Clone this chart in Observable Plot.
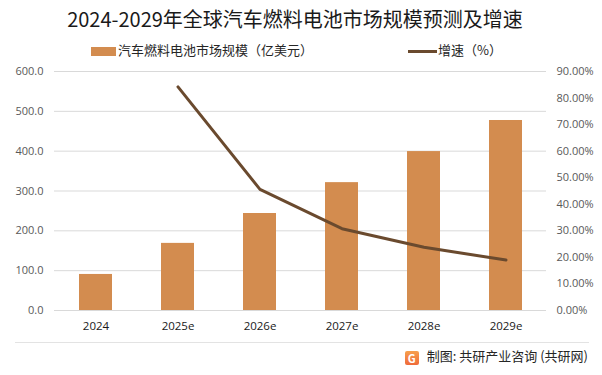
<!DOCTYPE html>
<html>
<head>
<meta charset="utf-8">
<script src="https://cdn.jsdelivr.net/npm/d3@7"></script>
<script src="https://cdn.jsdelivr.net/npm/@observablehq/plot@0.6"></script>
<style>
  html, body { margin: 0; padding: 0; background: #fff; }
  #wrap { position: relative; width: 602px; height: 375px; overflow: hidden; font-family: "Noto Sans CJK SC", "Noto Sans", sans-serif; }
  #title { position: absolute; left: 0; width: 590px; top: 5px; text-align: center; font-size: 20px; color: #1a1a1a; line-height: 28px; }
  .leg { position: absolute; top: 41px; font-size: 13px; color: #262626; line-height: 18px; white-space: nowrap; }
  .sw { display: inline-block; vertical-align: middle; }
  #chart { position: absolute; left: 0; top: 0; }
  #sep { position: absolute; left: 15px; width: 574px; top: 342px; height: 1px; background: #e3e3e3; }
  #cap { position: absolute; right: 14px; top: 347px; font-size: 13px; color: #262626; line-height: 18px; white-space: nowrap; }
  #logo { display: inline-block; width: 14px; height: 14px; background: linear-gradient(#f6a04d, #ef6a3a); color: #fff; font-weight: bold; font-size: 11px; line-height: 14px; text-align: center; vertical-align: -2px; margin-right: 8px; border-radius: 2px; }
</style>
</head>
<body>
<div id="wrap">
  <div id="chart"></div>
  <div id="title">2024-2029年全球汽车燃料电池市场规模预测及增速</div>
  <div class="leg" style="left:91px;"><span class="sw" style="width:25px;height:9px;background:#d38c4f;margin-right:2px;"></span>汽车燃料电池市场规模（亿美元）</div>
  <div class="leg" style="left:408px;"><span class="sw" style="width:29px;height:3px;background:#6a4a2e;margin-right:1px;"></span>增速（%）</div>
  <div id="sep"></div>
  <div id="cap"><span id="logo">G</span>制图: 共研产业咨询 (共研网)</div>
</div>
<script>
const years = ["2024", "2025e", "2026e", "2027e", "2028e", "2029e"];
const marketSize = [90.5, 168.5, 243.5, 321.0, 399.0, 477.0];
const growthPct = [null, 84.2, 45.6, 30.8, 23.8, 19.0];
const leftTicks = [0, 100, 200, 300, 400, 500, 600];
const rightTicks = [0, 10, 20, 30, 40, 50, 60, 70, 80, 90];

const leftMax = 600, rightMax = 90;
const toLeft = p => p / rightMax * leftMax;

const bars = years.map((y, i) => ({year: y, value: marketSize[i]}));
const line = years.map((y, i) => ({year: y, pct: growthPct[i]})).filter(d => d.pct != null);

const chart = Plot.plot({
  width: 602,
  height: 375,
  marginLeft: 54,
  marginRight: 56,
  marginTop: 71,
  marginBottom: 65,
  style: {fontFamily: "'Open Sans', 'Noto Sans', sans-serif", fontSize: "11px", background: "transparent"},
  x: {type: "band", domain: years, paddingInner: 0.6, paddingOuter: 0.3},
  y: {domain: [0, leftMax]},
  marks: [
    Plot.gridY(leftTicks, {stroke: "#d9d9d9", strokeOpacity: 1}),
    Plot.barY(bars, {x: "year", y: "value", fill: "#d38c4f"}),
    Plot.line(line, {x: "year", y: d => toLeft(d.pct), stroke: "#6a4a2e", strokeWidth: 3, curve: "linear", strokeLinejoin: "round"}),
    Plot.axisY(leftTicks, {anchor: "left", tickSize: 0, tickPadding: 11, tickFormat: d => d.toFixed(1), fill: "#595959", label: null}),
    Plot.axisY(rightTicks.map(toLeft), {anchor: "right", tickSize: 0, tickPadding: 10, tickFormat: d => (d / leftMax * rightMax).toFixed(2) + "%", fill: "#595959", label: null}),
    Plot.axisX({tickSize: 0, tickPadding: 11, fill: "#1a1a1a", label: null, fontSize: "11.5px"})
  ]
});
document.getElementById("chart").appendChild(chart);
</script>
</body>
</html>
